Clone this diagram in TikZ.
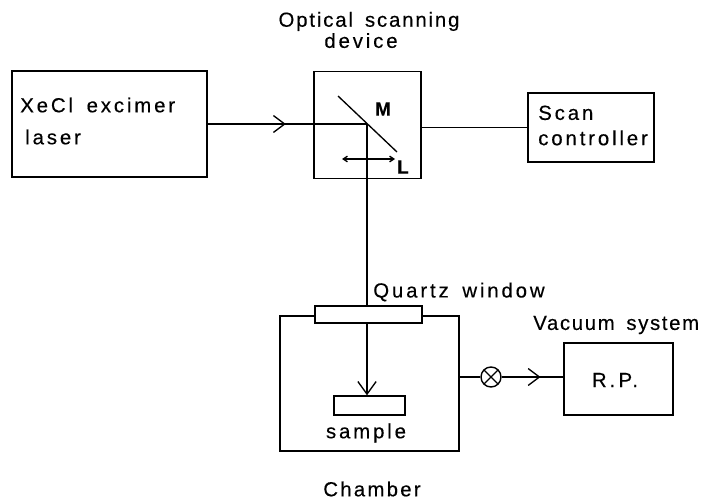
\documentclass[tikz,border=0pt]{standalone}
\usepackage{fontspec}
\setmainfont{Liberation Sans}[LetterSpace=14,WordSpace=1.6,FakeBold=0.3]
\usetikzlibrary{arrows.meta,decorations.markings}
\tikzset{
  unit/.style={draw,line width=1pt,inner sep=0pt,minimum width=#1},
  lbl/.style={font=\fontsize{14.5}{15}\selectfont,inner sep=0pt,align=left},
  beam/.style={line width=0.95pt},
  midtip/.style={postaction={decorate},decoration={markings,mark=at position #1 with {\arrow[line width=0.95pt]{Straight Barb[length=8pt,width=12pt]}}}}
}
\begin{document}
\begin{tikzpicture}[x=0.025cm,y=-0.025cm]
  \useasboundingbox (0,0) rectangle (708,500);
  % boxes
  \node[unit=195*0.025cm,minimum height=106*0.025cm] (laser) at (109.5,124) {};
  \node[unit=107*0.025cm,minimum height=107*0.025cm] (scanner) at (367.5,125) {};
  \node[unit=126*0.025cm,minimum height=69*0.025cm] (controller) at (591,127.5) {};
  \node[unit=179*0.025cm,minimum height=135*0.025cm] (chamber) at (369.5,383.5) {};
  \node[unit=107*0.025cm,minimum height=17*0.025cm,fill=white] (window) at (368.5,314.5) {};
  \node[unit=71*0.025cm,minimum height=19*0.025cm] (sample) at (369.5,405.5) {};
  \node[unit=109*0.025cm,minimum height=72*0.025cm] (rp) at (618.5,379) {};
  \node[draw,circle,line width=1pt,minimum size=20*0.025cm,inner sep=0pt,
        path picture={\draw[line width=0.95pt] (path picture bounding box.north west) -- (path picture bounding box.south east)
        (path picture bounding box.north east) -- (path picture bounding box.south west);}] (valve) at (491,377) {};
  % mirror and lens
  \coordinate (mtop) at (338,96);
  \coordinate (mbot) at (397,152);
  \coordinate (hit) at (367,124);
  \coordinate (lensl) at (342,159);
  \coordinate (lensr) at (395,159);
  \draw[beam] (mtop) -- (mbot);
  \draw[beam,{Straight Barb[length=3pt,width=4pt]}-{Straight Barb[length=3pt,width=4pt]}] (lensl) -- (lensr);
  % connectors
  \draw[beam,midtip=0.49] (laser.east |- hit) -- (hit);
  \draw[beam] (hit) -- (hit |- window.north);
  \draw[beam] (scanner.east |- controller.west) -- (controller.west);
  \draw[beam,-{Straight Barb[length=9pt,width=13pt]}] (hit |- window.south) -- (hit |- sample.north);
  \draw[beam] (chamber.east |- valve) -- (valve);
  \draw[beam,midtip=0.63] (valve) -- (rp.west |- valve);
  % labels
  \node[lbl,anchor=west] (laserlbl) at (20,105) {XeCl excimer};
  \node[lbl,anchor=west] (laserlbl2) at (25,137) {laser};
  \node[lbl,align=center] (scannerlbl) at (369,30) {\addfontfeatures{LetterSpace=9}Optical scanning\\device\hspace*{0.4cm}};
  \node[lbl,font=\fontsize{13.5}{15}\selectfont\bfseries] (mlbl) at (383,109) {M};
  \node[lbl,font=\fontsize{13.5}{15}\selectfont\bfseries] (llbl) at (403,167) {L};
  \node[lbl,anchor=west] (controllerlbl) at (538,125.5) {Scan\\[3pt]controller};
  \node[lbl,anchor=west] (windowlbl) at (373,292) {Quartz window};
  \node[lbl] (samplelbl) at (366,433) {sample};
  \node[lbl] (chamberlbl) at (372,489) {\addfontfeatures{LetterSpace=11}Chamber};
  \node[lbl,anchor=west] (vacuumlbl) at (533,325) {\addfontfeatures{LetterSpace=8}Vacuum system};
  \node[lbl] (rplbl) at (615,380) {R.\,P.};
\end{tikzpicture}
\end{document}
